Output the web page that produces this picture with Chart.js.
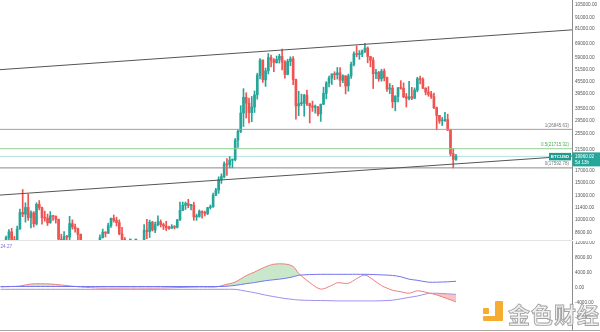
<!DOCTYPE html>
<html>
<head>
<meta charset="utf-8">
<script src="https://cdn.jsdelivr.net/npm/chart.js@4.4.1/dist/chart.umd.min.js"></script>
<style>
  html, body { margin: 0; padding: 0; background: #fff; }
  #wrap { position: relative; width: 600px; height: 332px; overflow: hidden; }
  #price { position: absolute; left: 0; top: 0; }
  #sep { position: absolute; left: 0; top: 240px; width: 572px; height: 1px; background: #e4e4e4; }
  #macd { position: absolute; left: 0; top: 241px; }
  #logo { position: absolute; left: 483px; top: 301px; width: 21px; height: 20px; opacity: .9; }
  #logo .dot { position: absolute; left: 0; top: 7px; width: 6px; height: 6px; background: #f5a31a; border-radius: 1px; }
  #logo .bar { position: absolute; left: 12px; top: 0; width: 8px; height: 20px; background: #f5a31a; border-radius: 1px; }
  #logo .foot { position: absolute; left: 0; top: 15px; width: 20px; height: 5px; background: #f5a31a; border-radius: 1px; }
  #brand { position: absolute; left: 508px; top: 297px; font: 700 22px "Noto Sans CJK SC", sans-serif;
           color: #efefef; -webkit-text-stroke: 0.9px #9c9c9c; letter-spacing: 1px; white-space: nowrap; opacity: .92; }
</style>
</head>
<body>
<div id="wrap">
  <canvas id="price" width="600" height="240"></canvas>
  <div id="sep"></div>
  <canvas id="macd" width="600" height="91"></canvas>
  <div id="logo"><div class="dot"></div><div class="bar"></div><div class="foot"></div></div>
  <div id="brand">金色财经</div>
</div>
<script>
// BTCUSD weekly candles, week 0 = 2019-04-08
const firstOpen = 5050;
const closes = [5070,5280,5200,5780,6980,8200,8730,8000,7650,8990,
  10800,10600,11400,10200,10750,9530,11800,11390,10200,10140,
  9630,10400,10350,10000,8050,7870,8280,8240,9550,9210,
  9030,8500,6900,7400,7520,7070,7500,7390,7760,8190,
  8700,8600,9350,10130,9900,9660,8530,8030,5360,5830,
  5880,6860,6900,7120,7700,8890,8750,9700,8900,9450,
  9750,9450,9300,9100,9080,9240,9170,9950,11050,11680,
  11900,11650,11700,10280,10330,10940,10740,10680,11380,11500,
  13030,13800,15480,16000,18400,18200,19150,19270,23870,26250,
  32100,38150,35800,32250,34300,39200,48600,57400,46200,51000,
  59000,57400,55800,57800,59800,56200,49000,56600,58200,46400,
  34700,35600,35800,39100,35500,34700,34200,34250,31800,35400,
  39850,44600,47100,49300,48900,49900,46000,48300,43200,48200,
  54700,61500,61000,61300,63300,65500,59700,57300,49400,50100,
  46700,50800,47300,41800,42200,36300,38500,42400,42100,38400,
  37700,38400,37800,41300,46800,46400,42150,40400,39500,38450,
  34050,31300,29450,29500,29900,26600,20550,19300,19960];
const highs = [5470,5360,5630,5900,7500,8320,8950,9070,8300,9300,
  11200,13880,12000,13200,11000,10900,12000,12300,11450,10950,
  10600,10900,10450,10400,10050,8500,8750,8400,10350,9950,
  9500,9100,8520,7800,7750,7650,7700,7680,7800,8450,
  9000,8740,9600,10150,10500,10250,9960,9180,8200,6900,
  6850,7200,7460,7300,7780,9460,10000,9930,9800,9700,
  10400,9950,9600,9800,9300,9450,9350,10000,12100,12100,
  12100,12470,11800,12080,10600,11100,10990,10950,11430,11720,
  13350,14070,15960,16480,18800,19480,19920,19420,24300,26800,
  34800,41950,40100,37800,38500,40900,49700,58350,57500,52600,
  61700,60600,58400,60000,61200,64800,57000,57900,59500,59600,
  46600,40800,39500,39400,41300,35800,36600,35100,34600,35400,
  42600,45300,48100,49300,50500,52900,52900,48800,48300,49200,
  56100,62900,67000,63700,64300,69000,66300,59800,59000,51900,
  50700,51900,52100,47600,44400,43500,38900,42500,45800,44700,
  39800,45400,42600,42300,47500,48200,47200,42400,42900,40700,
  40000,34300,31300,30600,32400,31700,26900,21800,20400];
const lows = [4900,5000,5080,5150,5700,6600,7500,7460,7450,7600,
  8980,10300,9700,9900,9100,9200,9400,11100,9500,9800,
  9350,9600,9900,9600,7800,7800,7800,7950,7300,8980,
  8700,8000,6800,6550,7100,7050,6450,7150,6900,7700,
  8150,8250,8550,9150,9700,9300,8450,7680,3860,4900,
  5700,5850,6770,6480,6800,7650,8100,8200,8800,8650,
  9300,9200,8950,8850,8950,9050,9000,9100,9900,11000,
  11150,11350,11100,9900,9900,10250,10150,10380,10530,11200,
  11400,12980,13300,14850,15750,16200,17600,17600,19000,22000,
  25900,27700,30400,28850,29200,32300,37400,46700,44900,43000,
  49300,53300,50600,55500,55500,51500,47000,48800,54000,43800,
  30000,31200,34800,31000,34800,28800,32700,32100,31100,29300,
  35200,37500,42800,43900,46300,46600,43000,44800,39600,40800,
  46900,53900,59500,57900,59500,62300,55700,53300,42000,46800,
  45500,45500,45700,40700,39700,34000,32900,36300,41700,38000,
  34300,37100,37200,37600,40500,44200,41900,39200,38600,37700,
  33700,26700,28700,28000,29300,26500,20100,17600,19100];
const opens = [firstOpen].concat(closes.slice(0, -1));

// price axis ticks
const priceTicks = [105000, 91000, 81000, 69000, 59000, 51500, 45500, 39500, 33500,
  29500, 25500, 21500, 17000, 15000, 13000, 11400, 10000, 8600];
const lastPrice = 19960.02;
const barTimeLeft = '5d 13h';

// channel lines: [start, end] prices at the left and right edges
const upperChannel = [51660, 79930];
const lowerChannel = [13060, 20050];

// fibonacci retracement
const fibRatios = ['1', '0.5', '0'];
const fibLevels = [26845.63, 21715.32, 17592.78];

// oscillator pane, sampled by week index
const oscWeeks = [3,10,14,21,25,32,39,50,61,75,81,84,88,92,95,99,102,106,109,111,
  115,119,123,125,129,132,135,138,141,145,148,151,154,158,161,165,168];
const oscLine = [270,530,1070,1070,800,270,0,0,0,270,270,800,1600,3300,4250,5650,6350,6400,5750,3900,
  1450,-300,700,1400,1250,2500,3450,2200,650,-600,-1000,-1400,-750,-1300,-1850,-2900,-3700];
const oscUpper = [400,400,400,400,400,400,400,400,400,400,400,420,700,1150,1450,1950,2200,2550,3000,3400,
  3580,3650,3650,3650,3650,3650,3650,3600,3500,3350,3000,2350,2050,1550,1550,1650,1800];
const oscLower = [-350,-350,-350,-350,-350,-350,-350,-350,-350,-350,-350,-350,-350,-850,-1250,-1900,-2300,-2800,-3050,-3200,
  -3300,-3350,-3400,-3450,-3450,-3450,-3450,-3450,-3400,-3250,-2900,-2500,-2150,-1450,-1400,-1550,-1700];
const oscTicks = [12000, 8000, 4000, 0, -4000, -8000];
const oscLastLabel = '24.27';

const UP = '#26a69a', DOWN = '#ef5350';
const X_MIN = 2.78, X_MAX = 210.03;
const FONT = '"Liberation Sans", Arial, sans-serif';

const candleColor = ctx => closes[ctx.dataIndex] >= opens[ctx.dataIndex] ? UP : DOWN;
const edgeLine = (vals, color) => ({
  type: 'line',
  data: [{x: X_MIN, y: vals[0]}, {x: X_MAX, y: vals[1]}],
  borderColor: color, borderWidth: 1, pointRadius: 0, order: 0
});

function rightAxis(ticks, min, max, type) {
  return {
    type: type, position: 'right', min: min, max: max,
    grid: {display: false, drawTicks: false},
    border: {display: true, color: '#8c8c8c'},
    ticks: {
      autoSkip: false, padding: 3, color: '#555', font: {family: FONT, size: 4.7},
      callback: v => Number(v).toFixed(2)
    },
    afterBuildTicks: s => { s.ticks = ticks.map(v => ({value: v})); },
    afterFit: s => { s.width = 28; s.paddingTop = 0; s.paddingBottom = 0; }
  };
}

const priceMarks = {
  id: 'priceMarks',
  afterDraw(chart) {
    const {ctx, chartArea, scales: {y}} = chart;
    ctx.save();
    ctx.font = '4.5px ' + FONT;
    ctx.textAlign = 'right';
    ctx.textBaseline = 'bottom';
    fibLevels.forEach((lv, k) => {
      ctx.fillStyle = k === 1 ? '#4caf50' : '#777';
      ctx.fillText(fibRatios[k] + '(' + lv.toFixed(2) + ')', chartArea.right - 3, y.getPixelForValue(lv) - 1.5);
    });
    const py = y.getPixelForValue(lastPrice);
    // symbol tag on the price line
    ctx.fillStyle = '#1f9a8c';
    ctx.fillRect(chartArea.right - 23, py - 3.5, 22, 7.5);
    ctx.fillStyle = '#fff';
    ctx.textAlign = 'center';
    ctx.textBaseline = 'middle';
    ctx.font = 'bold 4.4px ' + FONT;
    ctx.fillText('BTCUSD', chartArea.right - 12, py + 0.3);
    // last price on the axis
    ctx.fillStyle = UP;
    ctx.fillRect(chartArea.right + 0.5, py - 4, 28, 14);
    ctx.fillStyle = '#fff';
    ctx.font = '4.6px ' + FONT;
    ctx.textAlign = 'left';
    ctx.fillText(lastPrice.toFixed(2), chartArea.right + 3, py);
    ctx.fillText(barTimeLeft, chartArea.right + 3, py + 6);
    ctx.restore();
  }
};

new Chart(document.getElementById('price'), {
  type: 'bar',
  data: {
    datasets: [
      {
        data: closes.map((c, i) => ({x: i, y: [lows[i], highs[i]]})),
        backgroundColor: candleColor, barThickness: 1, grouped: false, order: 3
      },
      {
        data: closes.map((c, i) => ({x: i, y: [opens[i], c]})),
        backgroundColor: candleColor, barThickness: 2, minBarLength: 1, grouped: false, order: 2
      },
      edgeLine(upperChannel, '#555'),
      edgeLine(lowerChannel, '#555'),
      edgeLine([fibLevels[0], fibLevels[0]], '#a0a0a0'),
      edgeLine([fibLevels[1], fibLevels[1]], '#8fd18f'),
      edgeLine([fibLevels[2], fibLevels[2]], '#8a8a8a'),
      edgeLine([lastPrice, lastPrice], 'rgba(38,166,154,0.35)')
    ]
  },
  options: {
    responsive: false, animation: false, devicePixelRatio: 1,
    layout: {padding: 0},
    plugins: {legend: {display: false}, tooltip: {enabled: false}},
    scales: {
      x: {type: 'linear', min: X_MIN, max: X_MAX, offset: false, display: false},
      y: rightAxis(priceTicks, 7980, 110900, 'logarithmic')
    }
  },
  plugins: [priceMarks]
});

const oscMarks = {
  id: 'oscMarks',
  afterDraw(chart) {
    const {ctx, chartArea} = chart;
    ctx.save();
    ctx.strokeStyle = '#a6a6a6';
    ctx.lineWidth = 1;
    ctx.beginPath();
    ctx.moveTo(0, chartArea.bottom + 0.5);
    ctx.lineTo(chart.width, chartArea.bottom + 0.5);
    ctx.stroke();
    ctx.fillStyle = '#7b6fe0';
    ctx.font = '4.6px ' + FONT;
    ctx.textBaseline = 'middle';
    ctx.fillText(oscLastLabel, 0.5, 5.5);
    ctx.restore();
  }
};

const oscPoints = vals => oscWeeks.map((w, i) => ({x: w, y: vals[i]}));

new Chart(document.getElementById('macd'), {
  type: 'line',
  data: {
    datasets: [
      {data: oscPoints(oscUpper), borderColor: '#7474ee', borderWidth: 1, pointRadius: 0, tension: 0.3},
      {data: oscPoints(oscLower), borderColor: '#a090f0', borderWidth: 1, pointRadius: 0, tension: 0.3},
      {
        data: oscPoints(oscLine), borderColor: '#ef7f7d', borderWidth: 1, pointRadius: 0, tension: 0.3,
        fill: {target: 0, above: 'rgba(76,175,80,0.3)', below: 'rgba(0,0,0,0)'}
      },
      {
        data: oscPoints(oscLine), borderColor: 'rgba(0,0,0,0)', borderWidth: 0, pointRadius: 0, tension: 0.3,
        fill: {target: 1, above: 'rgba(0,0,0,0)', below: 'rgba(239,83,80,0.35)'}
      }
    ]
  },
  options: {
    responsive: false, animation: false, devicePixelRatio: 1,
    layout: {padding: {bottom: 2}},
    plugins: {legend: {display: false}, tooltip: {enabled: false}},
    scales: {
      x: {type: 'linear', min: X_MIN, max: X_MAX, display: false},
      y: rightAxis(oscTicks, -11200, 12533, 'linear')
    }
  },
  plugins: [oscMarks]
});
</script>
</body>
</html>
